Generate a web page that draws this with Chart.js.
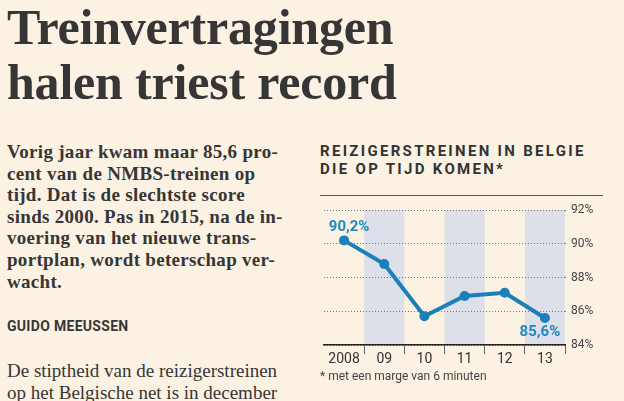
<!DOCTYPE html>
<html>
<head>
<meta charset="utf-8">
<script src="https://cdn.jsdelivr.net/npm/chart.js@4"></script>
<style>
  body { margin: 0; width: 624px; height: 401px; background: #fcf2e3; overflow: hidden; position: relative; color: #363636; }
  #head { position: absolute; left: 7px; top: 0; font: bold 50px/55px 'Liberation Serif', serif; letter-spacing: -0.2px; white-space: nowrap; }
  #lead { position: absolute; left: 7px; top: 141px; font: bold 19px/21.6px 'Liberation Serif', serif; letter-spacing: 0.3px; white-space: nowrap; }
  #byline { position: absolute; left: 7px; top: 318px; font: bold 14px Roboto, sans-serif; letter-spacing: 0.3px; }
  #body { position: absolute; left: 7px; top: 360px; font: 19px/22px 'Liberation Serif', serif; white-space: nowrap; }
  #ctitle { position: absolute; left: 320px; top: 142px; font: bold 15px/18px Roboto, sans-serif; letter-spacing: 2.3px; color: #333; }
  #rule { position: absolute; left: 320px; top: 195px; width: 283px; height: 1px; background: #555; }
  #chartbox { position: absolute; left: 300px; top: 190px; width: 324px; height: 180px; }
  #note { position: absolute; left: 320px; top: 369px; font: 12px Roboto, sans-serif; color: #444; }
</style>
</head>
<body>
<div id="head">Treinvertragingen<br>halen triest record</div>
<div id="lead">Vorig jaar kwam maar 85,6 pro-<br>cent van de NMBS-treinen op<br>tijd. Dat is de slechtste score<br>sinds 2000. Pas in 2015, na de in-<br>voering van het nieuwe trans-<br>portplan, wordt beterschap ver-<br>wacht.</div>
<div id="byline">GUIDO MEEUSSEN</div>
<div id="body">De stiptheid van de reizigerstreinen<br>op het Belgische net is in december</div>

<div id="ctitle">REIZIGERSTREINEN IN BELGIE<br>DIE OP TIJD KOMEN*</div>
<div id="rule"></div>
<div id="chartbox"><canvas id="punctChart"></canvas></div>
<div id="note">* met een marge van 6 minuten</div>

<script>
// data
const years = ['2008', '09', '10', '11', '12', '13'];
const onTime = [90.2, 88.8, 85.7, 86.9, 87.1, 85.6];
const shadedYears = ['09', '11', '13'];
const labelledYears = ['2008', '13'];
const yTicks = [84, 86, 88, 90, 92];

const blue = '#1b7fb8';

Chart.defaults.font.family = "Roboto, sans-serif";

// grey columns behind every other year
const bandsPlugin = {
  id: 'bands',
  beforeDraw(chart) {
    const { ctx, scales: { x, y } } = chart;
    const w = x.width / years.length;
    const top = y.getPixelForValue(yTicks[yTicks.length - 1]);
    const bottom = y.getPixelForValue(yTicks[0]);
    ctx.save();
    ctx.fillStyle = '#dde0e9';
    shadedYears.forEach(yr => {
      const cx = x.getPixelForValue(years.indexOf(yr));
      ctx.fillRect(cx - w / 2, top, w, bottom - top);
    });
    ctx.restore();
  }
};

// first / last value labels
const valueLabels = {
  id: 'valueLabels',
  afterDatasetsDraw(chart) {
    const { ctx } = chart;
    const meta = chart.getDatasetMeta(0);
    ctx.save();
    ctx.font = 'bold 15px Roboto, sans-serif';
    ctx.fillStyle = '#1f87c3';
    ctx.textAlign = 'center';
    ctx.textBaseline = 'middle';
    labelledYears.forEach(yr => {
      const i = years.indexOf(yr);
      const pt = meta.data[i];
      const txt = onTime[i].toFixed(1).replace('.', ',') + '%';
      if (i === 0) ctx.fillText(txt, pt.x + 5, pt.y - 13);
      else ctx.fillText(txt, pt.x - 5, pt.y + 14);
    });
    ctx.restore();
  }
};

new Chart(document.getElementById('punctChart'), {
  type: 'line',
  data: {
    labels: years,
    datasets: [{
      data: onTime,
      borderColor: blue,
      backgroundColor: blue,
      borderWidth: 4,
      pointRadius: 5,
      pointBackgroundColor: blue,
      pointBorderWidth: 0,
      tension: 0,
    }]
  },
  options: {
    responsive: true,
    maintainAspectRatio: false,
    animation: false,
    layout: { padding: { left: 24, top: 20, right: 0, bottom: 0 } },
    plugins: { legend: { display: false }, tooltip: { enabled: false } },
    scales: {
      x: {
        offset: true,
        grid: { offset: true, drawOnChartArea: false, tickLength: 9, color: c => c.index === 0 ? 'rgba(0,0,0,0)' : '#666' },
        border: { color: '#222', width: 1.5 },
        ticks: { color: '#333', font: { size: 14 }, padding: -3 },
        afterFit: s => { s.height = 25; }
      },
      y: {
        position: 'right',
        min: yTicks[0], max: yTicks[yTicks.length - 1],
        afterBuildTicks: s => { s.ticks = yTicks.map(v => ({ value: v })); },
        grid: { color: '#777', tickLength: 3, tickBorderDash: [1, 2] },
        border: { display: false, dash: [1, 2] },
        ticks: { color: '#444', font: { size: 12 }, padding: 3, callback: v => v + '%' },
        afterFit: s => { s.width = 59; }
      }
    }
  },
  plugins: [bandsPlugin, valueLabels]
});
</script>
</body>
</html>
